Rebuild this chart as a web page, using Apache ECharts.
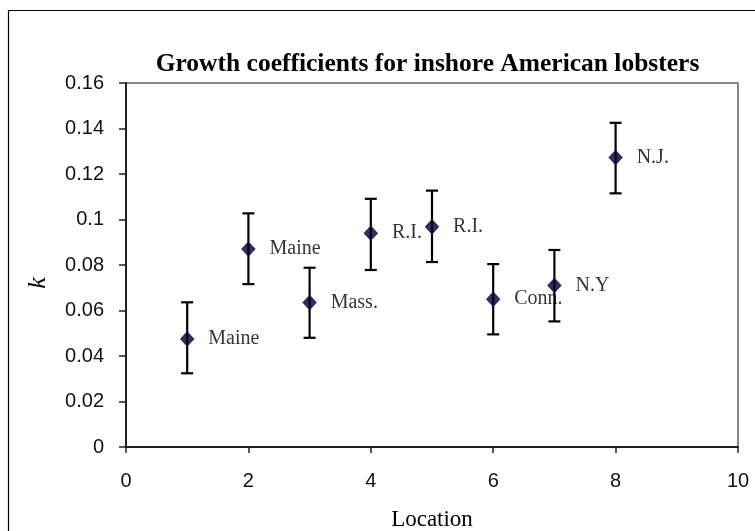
<!DOCTYPE html>
<html>
<head>
<meta charset="utf-8">
<script src="https://cdn.jsdelivr.net/npm/echarts@6/dist/echarts.min.js"></script>
<style>
  html, body { margin: 0; padding: 0; background: #fff; }
  #chart { width: 755px; height: 531px; }
</style>
</head>
<body>
<div id="chart"></div>
<script>
// Sampling locations along the coast and the fitted growth coefficient k
const locations = [1, 2, 3, 4, 5, 6, 7, 8];
const siteNames = ['Maine', 'Maine', 'Mass.', 'R.I.', 'R.I.', 'Conn.', 'N.Y', 'N.J.'];
const kValues = [0.0475, 0.0870, 0.0635, 0.0940, 0.0968, 0.0650, 0.0710, 0.1272];
// Lower and upper ends of each error bar
const kLower = [0.0324, 0.0716, 0.0480, 0.0778, 0.0813, 0.0495, 0.0552, 0.1115];
const kUpper = [0.0636, 0.1027, 0.0788, 0.1091, 0.1127, 0.0804, 0.0866, 0.1425];
const xTicks = [0, 2, 4, 6, 8, 10];
const yTicks = [0, 0.02, 0.04, 0.06, 0.08, 0.1, 0.12, 0.14, 0.16];

const pointData = locations.map((x, i) => ({ value: [x, kValues[i]], name: siteNames[i] }));
const barData = locations.map((x, i) => [x, kLower[i], kUpper[i]]);

const serif = '"Liberation Serif", "Times New Roman", serif';
const sans = '"Liberation Sans", Arial, sans-serif';

const chart = echarts.init(document.getElementById('chart'), null, { renderer: 'canvas' });
chart.setOption({
  animation: false,
  backgroundColor: '#fff',
  graphic: [{
    type: 'rect',
    shape: { x: 8.5, y: 10.5, width: 800, height: 600 },
    style: { fill: 'none', stroke: '#000', lineWidth: 1.2 },
    silent: true
  }],
  title: {
    text: 'Growth coefficients for inshore American lobsters',
    left: 422.5, top: 46, textAlign: 'center',
    textStyle: { fontFamily: serif, fontWeight: 'bold', fontSize: 25.5, color: '#000' }
  },
  grid: {
    left: 126, right: 17, top: 83, bottom: 84,
    outerBoundsMode: 'none', containLabel: false,
    show: true, borderColor: '#888', borderWidth: 2, backgroundColor: '#fff'
  },
  xAxis: {
    type: 'value', min: xTicks[0], max: xTicks[xTicks.length - 1], interval: 2,
    name: 'Location', nameLocation: 'middle', nameGap: 61,
    nameTextStyle: { fontFamily: serif, fontSize: 23, color: '#000' },
    axisLine: { show: true, onZero: false, lineStyle: { color: '#222', width: 2 } },
    axisTick: { show: true, inside: false, length: 6, lineStyle: { color: '#222', width: 1.5 } },
    axisLabel: { margin: 24, fontFamily: sans, fontSize: 20, color: '#111' },
    splitLine: { show: false }
  },
  yAxis: {
    type: 'value', min: yTicks[0], max: yTicks[yTicks.length - 1], interval: 0.02,
    name: 'k', nameLocation: 'middle', nameGap: 75, nameRotate: 90,
    nameTextStyle: { fontFamily: serif, fontStyle: 'italic', fontSize: 26, color: '#000', padding: [0, 36, 0, 0] },
    axisLine: { show: true, onZero: false, lineStyle: { color: '#222', width: 2 } },
    axisTick: { show: true, inside: false, length: 7, lineStyle: { color: '#222', width: 1.5 } },
    axisLabel: { margin: 22, fontFamily: sans, fontSize: 20, color: '#111' },
    splitLine: { show: false }
  },
  series: [
    {
      type: 'custom',
      data: barData,
      z: 2,
      renderItem: function (params, api) {
        const x = api.value(0);
        const lo = api.coord([x, api.value(1)]);
        const hi = api.coord([x, api.value(2)]);
        const cap = 6;
        const style = { stroke: '#000', lineWidth: 2.2 };
        return {
          type: 'group',
          children: [
            { type: 'line', shape: { x1: lo[0], y1: lo[1], x2: hi[0], y2: hi[1] }, style: style },
            { type: 'line', shape: { x1: hi[0] - cap, y1: hi[1], x2: hi[0] + cap, y2: hi[1] }, style: style },
            { type: 'line', shape: { x1: lo[0] - cap, y1: lo[1], x2: lo[0] + cap, y2: lo[1] }, style: style }
          ]
        };
      }
    },
    {
      type: 'scatter',
      data: pointData,
      z: 3,
      symbol: 'diamond',
      symbolSize: [13, 14],
      itemStyle: { color: '#00001f', borderColor: '#14146e', borderWidth: 1.2 },
      label: {
        show: true, position: 'right', distance: 14,
        formatter: p => p.name,
        fontFamily: serif, fontSize: 20, color: '#000'
      }
    }
  ]
});
</script>
</body>
</html>
